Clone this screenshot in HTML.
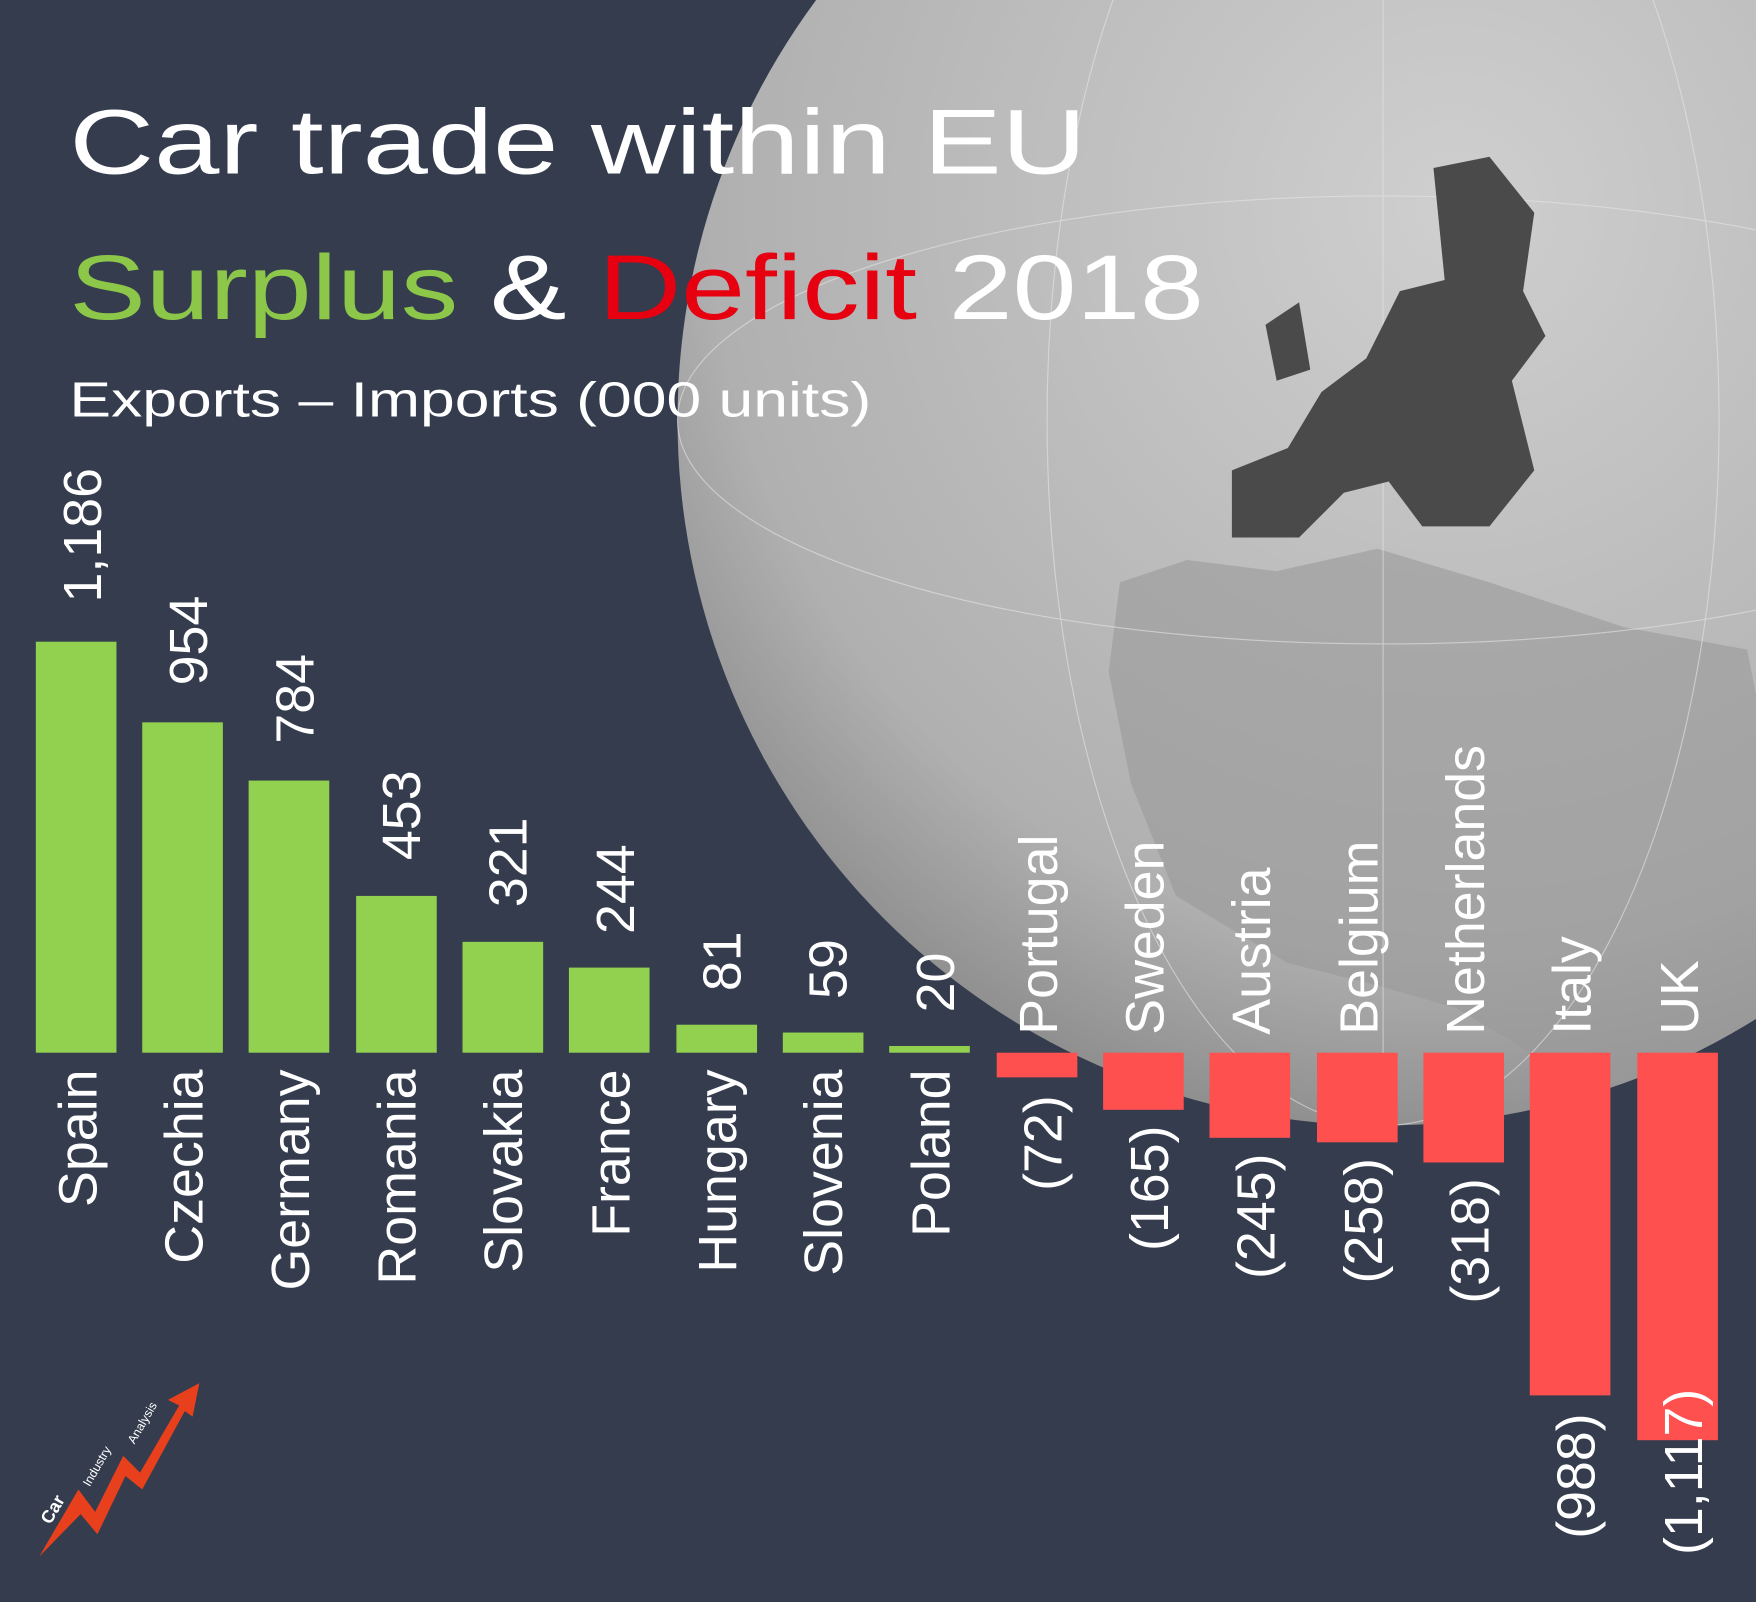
<!DOCTYPE html>
<html><head><meta charset="utf-8"><style>
html,body{margin:0;padding:0;background:#343c4e;overflow:hidden}
#w{width:1568px;height:1430px;transform:scale(1.1199);transform-origin:0 0;position:relative}
svg{display:block}
text{font-family:"Liberation Sans",sans-serif}
</style></head><body><div id="w">
<svg width="1568" height="1430" viewBox="0 0 1568 1430">
<defs>
<radialGradient id="g" cx="0.55" cy="0.35" r="0.7">
<stop offset="0" stop-color="#cfcfcf"/><stop offset="0.75" stop-color="#b0b0b0"/><stop offset="1" stop-color="#858585"/>
</radialGradient>
<clipPath id="c"><circle cx="1235" cy="375" r="630"/></clipPath>
</defs>
<rect width="1568" height="1430" fill="#343c4e"/>
<circle cx="1235" cy="375" r="630" fill="url(#g)"/>
<g clip-path="url(#c)">
<path d="M1000 520 L1060 500 L1140 510 L1230 490 L1330 520 L1450 560 L1560 580 L1568 620 L1568 990 L1400 960 L1300 900 L1230 880 L1150 860 L1050 800 L1010 700 L990 600 Z" fill="#9a9a9a" opacity="0.6"/>
</g>
<g fill="none" stroke="#e6e6e6" stroke-width="1" opacity="0.6">
<ellipse cx="1235" cy="375" rx="300" ry="630"/>
<ellipse cx="1235" cy="375" rx="630" ry="200"/>
<line x1="1235" y1="-255" x2="1235" y2="1005"/>
</g>
<path d="M1280 150 L1330 140 L1370 190 L1360 260 L1380 300 L1350 340 L1370 420 L1330 470 L1270 470 L1240 430 L1200 440 L1160 480 L1100 480 L1100 420 L1150 400 L1180 350 L1220 320 L1250 260 L1290 250 Z" fill="#4a4a4a"/>
<path d="M1130 290 L1160 270 L1170 330 L1140 340 Z" fill="#4a4a4a"/>
<g font-size="82" fill="#fff">
<text x="62" y="155" textLength="908" lengthAdjust="spacingAndGlyphs">Car trade within EU</text>
<text x="62" y="285" textLength="1013" lengthAdjust="spacingAndGlyphs"><tspan fill="#8cc74a">Surplus</tspan> &amp; <tspan fill="#e60010">Deficit</tspan> 2018</text>
</g>
<text x="62" y="372" font-size="44" fill="#fff" textLength="716" lengthAdjust="spacingAndGlyphs">Exports – Imports (000 units)</text>
<g fill="#92d050">
<rect x="32" y="573" width="72" height="367"/>
<rect x="127" y="645" width="72" height="295"/>
<rect x="222" y="697" width="72" height="243"/>
<rect x="318" y="800" width="72" height="140"/>
<rect x="413" y="841" width="72" height="99"/>
<rect x="508" y="864" width="72" height="76"/>
<rect x="604" y="915" width="72" height="25"/>
<rect x="699" y="922" width="72" height="18"/>
<rect x="794" y="934" width="72" height="6"/>
</g>
<g fill="#ff5050">
<rect x="890" y="940" width="72" height="22"/>
<rect x="985" y="940" width="72" height="51"/>
<rect x="1080" y="940" width="72" height="76"/>
<rect x="1176" y="940" width="72" height="80"/>
<rect x="1271" y="940" width="72" height="98"/>
<rect x="1366" y="940" width="72" height="306"/>
<rect x="1462" y="940" width="72" height="346"/>
</g>
<g font-size="48" fill="#fff">
<text transform="translate(90,538) rotate(-90)">1,186</text>
<text transform="translate(185,612) rotate(-90)">954</text>
<text transform="translate(280,664) rotate(-90)">784</text>
<text transform="translate(375,768) rotate(-90)">453</text>
<text transform="translate(470,810) rotate(-90)">321</text>
<text transform="translate(566,834) rotate(-90)">244</text>
<text transform="translate(661,885) rotate(-90)">81</text>
<text transform="translate(756,892) rotate(-90)">59</text>
<text transform="translate(852,904) rotate(-90)">20</text>
<g text-anchor="end">
<text transform="translate(86,955) rotate(-90)">Spain</text>
<text transform="translate(181,955) rotate(-90)">Czechia</text>
<text transform="translate(276,955) rotate(-90)">Germany</text>
<text transform="translate(371,955) rotate(-90)">Romania</text>
<text transform="translate(466,955) rotate(-90)">Slovakia</text>
<text transform="translate(562,955) rotate(-90)">France</text>
<text transform="translate(657,955) rotate(-90)">Hungary</text>
<text transform="translate(752,955) rotate(-90)">Slovenia</text>
<text transform="translate(848,955) rotate(-90)">Poland</text>
<text transform="translate(948,978) rotate(-90)">(72)</text>
<text transform="translate(1043,1005) rotate(-90)">(165)</text>
<text transform="translate(1138,1030) rotate(-90)">(245)</text>
<text transform="translate(1234,1034) rotate(-90)">(258)</text>
<text transform="translate(1329,1052) rotate(-90)">(318)</text>
<text transform="translate(1424,1262) rotate(-90)">(988)</text>
<text transform="translate(1520,1240) rotate(-90)">(1,117)</text>
</g>
<text transform="translate(944,924) rotate(-90)">Portugal</text>
<text transform="translate(1039,924) rotate(-90)">Sweden</text>
<text transform="translate(1134,924) rotate(-90)">Austria</text>
<text transform="translate(1230,924) rotate(-90)">Belgium</text>
<text transform="translate(1325,924) rotate(-90)">Netherlands</text>
<text transform="translate(1420,924) rotate(-90)">Italy</text>
<text transform="translate(1516,924) rotate(-90)">UK</text>
</g>
<g>
<path d="M35 1390 L70 1330 L85 1350 L110 1300 L125 1315 L160 1255 L150 1250 L178 1235 L172 1265 L165 1260 L127 1330 L112 1318 L87 1370 L72 1352 Z" fill="#e8401c"/>
<text transform="translate(45,1362) rotate(-60)" font-size="16" font-weight="bold" fill="#fff">Car</text>
<text transform="translate(80,1328) rotate(-60)" font-size="11" fill="#fff">Industry</text>
<text transform="translate(120,1290) rotate(-60)" font-size="11" fill="#fff">Analysis</text>
</g>
</svg>
</div></body></html>
